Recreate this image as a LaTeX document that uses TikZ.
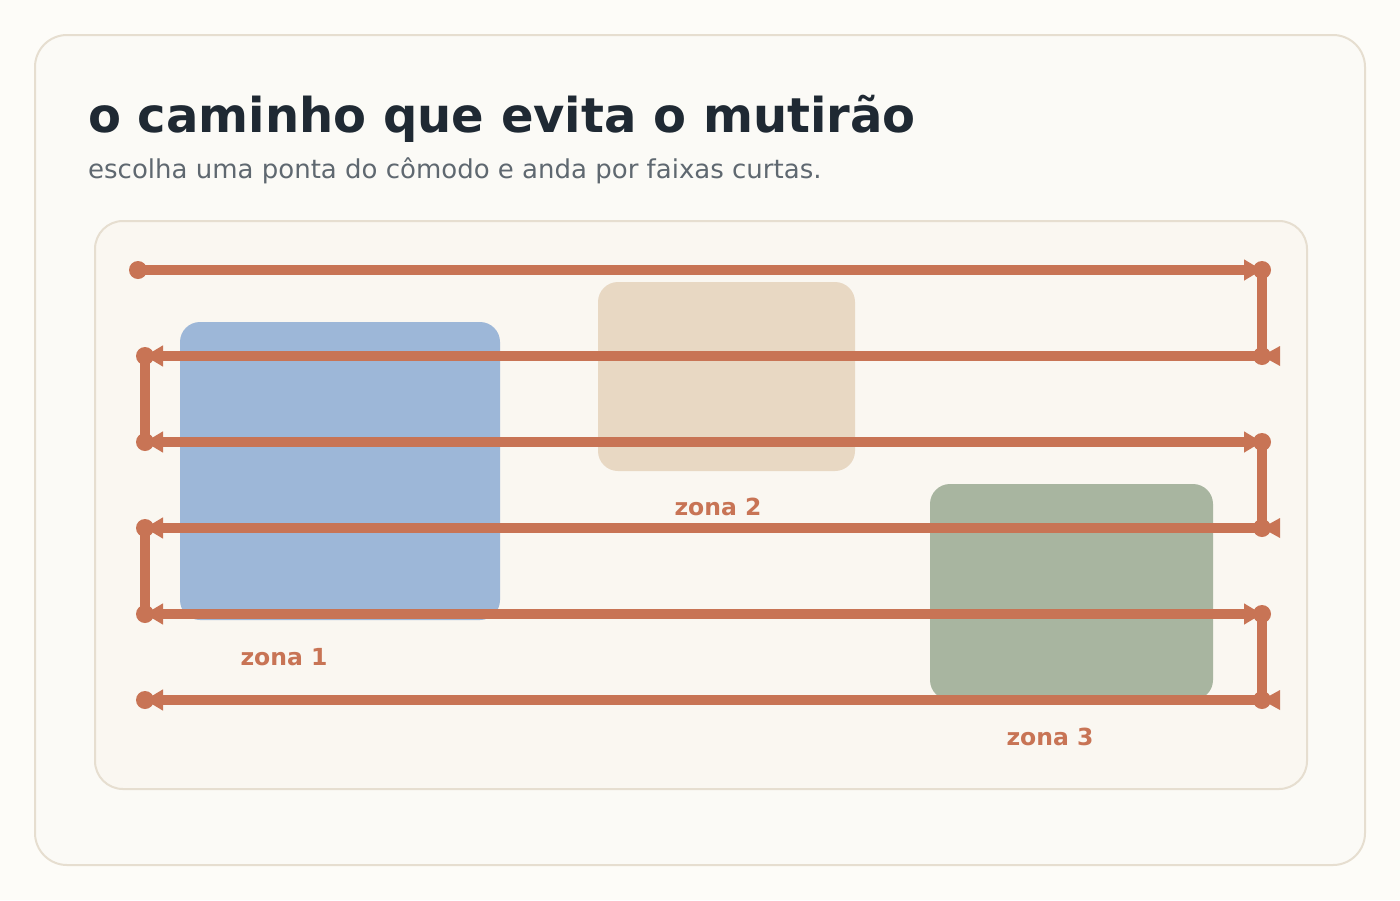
\documentclass[tikz,border=0pt]{standalone}
\usepackage{fontspec}
\setmainfont{DejaVu Sans}
\usetikzlibrary{arrows.meta,positioning}
\definecolor{fundo}{HTML}{FDFCF8}
\definecolor{papel}{HTML}{FBFAF6}
\definecolor{piso}{HTML}{FAF7F1}
\definecolor{borda}{HTML}{E6DED0}
\definecolor{tinta}{HTML}{1F2933}
\definecolor{cinza}{HTML}{5F6870}
\definecolor{terra}{HTML}{C87455}
\definecolor{azul}{HTML}{9DB7D8}
\definecolor{areia}{HTML}{E8D8C3}
\definecolor{salvia}{HTML}{A8B5A0}
\tikzstyle{cartao} = [draw=borda, fill=papel, line width=2pt, rounded corners=32pt, inner sep=0pt]
\tikzstyle{painel} = [draw=borda, fill=piso, line width=2pt, rounded corners=28pt, inner sep=0pt]
\tikzstyle{zona} = [rectangle, rounded corners=20pt, inner sep=0pt]
\tikzstyle{rotulo} = [text=terra, font=\fontsize{23.5}{28}\selectfont\bfseries, anchor=base, inner sep=0pt]
\tikzstyle{faixa} = [draw=terra, line width=9.5pt, >={Triangle[length=18pt,width=20pt]}]
\tikzset{pontafora/.pic={\fill[terra] (0,0) -- (18,-10) -- (18,10) -- cycle;}}

\begin{document}
\begin{tikzpicture}[x=1pt, y=-1pt]
	\fill[fundo] (0,0) rectangle (1400,900);
	\node[cartao, minimum width=1330pt, minimum height=830pt] (cartao) at (700,450) {};
	\node[anchor=base west, inner sep=0pt, text=tinta, font=\fontsize{48}{58}\selectfont\bfseries] (titulo) at (88,132) {o caminho que evita o mutirão};
	\node[anchor=base west, inner sep=0pt, text=cinza, font=\fontsize{26}{31}\selectfont] (sub) at (88,178) {escolha uma ponta do cômodo e anda por faixas curtas.};
	\node[painel, minimum width=1212pt, minimum height=568pt] (painel) at (701,505) {};
	% zonas do comodo
	\node[zona, fill=azul, minimum width=320pt, minimum height=298pt] (z1) at (340,471) {};
	\node[zona, fill=areia, minimum width=257pt, minimum height=189pt] (z2) at (726.5,376.5) {};
	\node[zona, fill=salvia, minimum width=283pt, minimum height=216pt] (z3) at (1071.5,592) {};
	\node[rotulo] (r1) at (284,665) {zona 1};
	\node[rotulo] (r2) at (718,515) {zona 2};
	\node[rotulo] (r3) at (1050,745) {zona 3};
	% pontos das faixas
	\coordinate (e1) at (138,270); \coordinate (d1) at (1262,270);
	\coordinate (e2) at (145,356); \coordinate (d2) at (1262,356);
	\coordinate (e3) at (145,442); \coordinate (d3) at (1262,442);
	\coordinate (e4) at (145,528); \coordinate (d4) at (1262,528);
	\coordinate (e5) at (145,614); \coordinate (d5) at (1262,614);
	\coordinate (e6) at (145,700); \coordinate (d6) at (1262,700);
	\draw[faixa, ->] (e1) -- (d1);
	\draw[faixa] (d1) -- (d2);
	\draw[faixa, <-] (e2) -- (d2);
	\draw[faixa] (e2) -- (e3);
	\draw[faixa, <->] (e3) -- (d3);
	\draw[faixa] (d3) -- (d4);
	\draw[faixa, <-] (e4) -- (d4);
	\draw[faixa] (e4) -- (e5);
	\draw[faixa, <->] (e5) -- (d5);
	\draw[faixa] (d5) -- (d6);
	\draw[faixa, <-] (e6) -- (d6);
	\foreach \p in {d2,d4,d6} \pic at (\p) {pontafora};
	\foreach \p in {e1,d1,e2,d2,e3,d3,e4,d4,e5,d5,e6,d6} \fill[terra] (\p) circle (9pt);
\end{tikzpicture}
\end{document}
